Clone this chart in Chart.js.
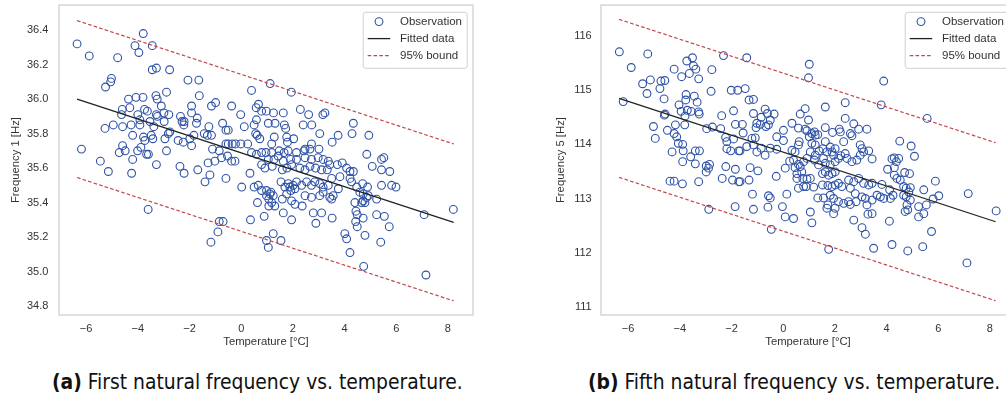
<!DOCTYPE html>
<html><head><meta charset="utf-8">
<script src="https://cdn.jsdelivr.net/npm/chart.js@4.4.1/dist/chart.umd.min.js"></script>
<style>
html,body{margin:0;padding:0;background:#fff;overflow:hidden;width:1006px;height:398px;position:relative;}
.wrap{position:absolute;top:0;width:490px;height:360px;}
.cap{position:absolute;top:377px;white-space:nowrap;font-family:"DejaVu Sans Condensed","DejaVu Sans",sans-serif;font-size:18px;line-height:18px;color:#111;}
.cap b{font-weight:bold;}
</style></head><body>
<div class="wrap" style="left:0"><canvas id="c1" width="490" height="360"></canvas></div>
<div class="wrap" style="left:542px"><canvas id="c2" width="490" height="360"></canvas></div>
<div class="cap" id="capA" style="left:52px"><b>(a)</b> First natural frequency vs. temperature.</div>
<div class="cap" id="capB" style="left:588px"><b>(b)</b> Fifth natural frequency vs. temperature.</div>
<script>
// ---------- data ----------
const temp1 = [
-6.35,-5.88,-3.79,-4.11,-3.96,-3.44,-4.78,-3.44,-3.28,-2.77,-5.02,-5.05,-5.25,-2.06,-1.64,-4.36,-4.07,-3.80,-3.30,-3.25,
-2.89,-1.62,-4.60,-4.31,-3.74,-3.63,-3.09,-1.92,-1.92,-4.63,-4.00,-3.28,-2.99,-2.80,-2.35,-2.29,-2.21,-2.22,-1.70,-1.73,
-5.27,-4.95,-4.59,-4.26,-3.92,-3.92,-3.53,-3.38,-3.24,-2.98,-4.20,-3.78,-3.73,-3.48,-3.42,-2.95,-2.82,-2.76,-2.44,-2.24,
-1.99,-1.92,-1.83,-6.18,-4.59,-4.72,-4.49,-4.01,-3.88,-3.66,-3.59,-2.89,-5.45,-4.20,-3.28,-2.37,-2.21,-1.68,-5.14,-4.24,-3.60,
-1.15,-0.99,-0.37,0.40,1.12,1.94,0.67,0.58,0.79,0.97,
1.25,1.63,2.29,2.61,3.16,3.24,-0.02,0.59,0.50,1.05,
1.31,1.67,1.72,2.40,2.73,3.04,-1.25,-1.43,-1.31,-1.15,
-0.72,-0.59,-0.50,0.12,0.56,0.62,0.72,1.28,1.76,1.79,
2.03,1.18,3.52,2.72,2.47,3.01,-0.59,-0.50,-0.35,-0.22,
-0.01,0.25,-1.11,-0.85,-1.02,-1.28,-0.76,-0.53,-0.37,-0.24,
0.40,0.59,0.79,0.96,1.18,1.47,1.66,1.82,2.14,2.43,2.66,
1.05,1.27,1.43,1.63,1.91,2.14,2.47,2.72,2.98,3.17,3.37,
0.79,0.92,1.20,1.59,1.77,1.95,2.27,2.47,2.66,2.88,3.11,3.33,3.43,
0.34,-0.59,-1.21,-1.40,0.02,
0.50,0.66,0.79,0.98,1.15,1.11,0.98,1.07,1.24,1.18,1.07,1.30,
1.54,1.69,1.82,1.88,2.01,2.08,1.92,2.14,2.34,2.53,2.72,2.85,3.04,3.17,3.37,3.50,
1.59,1.76,1.95,2.08,2.36,2.47,2.72,3.04,3.17,3.43,3.56,3.50,
0.89,1.63,1.95,2.79,3.11,2.89,3.52,0.36,-0.85,-0.70,-0.90,-1.17,1.24,0.98,1.05,1.54,0.63,
4.34,4.29,3.75,4.94,4.86,5.43,5.52,5.07,5.43,5.75,
3.72,3.91,4.08,4.21,4.34,3.82,4.21,4.27,4.70,4.89,
4.47,5.43,5.82,5.99,3.76,4.59,4.72,4.85,4.72,4.79,
4.66,4.92,5.24,4.40,4.44,4.49,4.43,4.49,4.72,5.24,
5.54,5.73,7.08,8.21,4.01,4.08,4.79,5.40,4.21,4.74,7.15
];
const freq1 = [
36.32,36.25,36.38,36.31,36.27,36.31,36.24,36.17,36.18,36.17,36.12,36.10,36.07,36.11,36.11,36.00,36.01,36.01,36.02,36.00,
36.04,36.02,35.94,35.95,35.94,35.93,35.96,35.96,35.92,35.91,35.91,35.91,35.92,35.91,35.90,35.87,35.87,35.85,35.89,35.86,
35.83,35.85,35.84,35.85,35.88,35.85,35.87,35.84,35.90,35.87,35.79,35.78,35.76,35.79,35.77,35.77,35.80,35.81,35.76,35.75,
35.77,35.73,35.79,35.71,35.73,35.69,35.70,35.70,35.72,35.68,35.68,35.70,35.64,35.65,35.62,35.61,35.57,35.59,35.58,35.57,35.36,
35.96,35.98,35.96,36.05,36.09,36.04,35.97,35.95,35.93,35.93,
35.92,35.92,35.94,35.91,35.91,35.92,35.91,35.88,35.85,35.86,
35.86,35.85,35.83,35.85,35.85,35.80,35.84,35.80,35.79,35.79,
35.86,35.82,35.82,35.84,35.80,35.79,35.77,35.78,35.78,35.75,
35.77,35.74,35.75,35.74,35.71,35.71,35.74,35.74,35.74,35.74,
35.74,35.74,35.71,35.70,35.64,35.63,35.66,35.67,35.64,35.64,
35.69,35.68,35.69,35.69,35.69,35.70,35.69,35.70,35.69,35.70,35.71,
35.65,35.65,35.67,35.64,35.65,35.65,35.66,35.65,35.66,35.65,35.64,
35.62,35.60,35.61,35.59,35.60,35.62,35.60,35.59,35.61,35.60,35.59,35.59,35.62,
35.57,35.54,35.56,35.52,35.49,
35.49,35.50,35.47,35.47,35.46,35.45,35.44,35.42,35.44,35.40,35.38,35.38,
35.52,35.49,35.51,35.49,35.50,35.48,35.47,35.52,35.50,35.52,35.50,35.52,35.51,35.49,35.50,35.54,
35.42,35.45,35.41,35.39,35.38,35.44,35.43,35.44,35.46,35.43,35.44,35.42,
35.32,35.34,35.30,35.34,35.34,35.28,35.31,35.30,35.29,35.29,35.23,35.17,35.22,35.18,35.14,35.18,35.40,
35.86,35.80,35.79,35.79,35.68,35.65,35.66,35.61,35.59,35.58,
35.62,35.63,35.60,35.58,35.58,35.55,35.54,35.52,35.51,35.49,
35.49,35.50,35.50,35.49,35.48,35.46,35.45,35.43,35.41,35.40,
35.40,35.44,35.42,35.40,35.35,35.33,35.29,35.26,35.31,35.33,
35.32,35.26,35.33,35.36,35.22,35.19,35.21,35.17,35.11,35.03,34.98
];
const temp5 = [
-6.34,-5.24,-5.88,-3.73,-3.51,-3.47,-3.38,-3.63,-4.22,-3.93,
-3.27,-2.76,-2.31,-5.44,-5.14,-4.73,-4.58,-4.77,-5.27,-4.61,
-3.76,-3.77,-3.44,-3.33,-2.79,-2.01,-1.76,-6.19,-4.03,-3.95,
-3.71,-3.56,-3.27,-1.92,-4.60,-3.80,-2.38,-5.02,-4.48,-4.17,
-3.81,-4.22,-4.12,-2.96,-2.74,-2.42,-1.85,-4.95,-4.06,-3.89,
-2.23,-2.18,-1.92,-2.18,-2.03,-1.72,-4.30,-3.87,-3.40,-3.24,
-3.58,-3.89,-3.40,-2.98,-2.85,-2.89,-2.98,-2.22,-1.85,-4.38,
-4.22,-3.90,-3.27,-2.36,-1.96,-1.72,-2.88,-1.86,-3.25,-4.57,
-1.41,-1.47,-1.32,-1.15,1.01,0.98,1.63,2.40,0.85,0.66,
0.98,-1.15,-0.70,-0.61,-0.35,-0.85,-0.50,-1.02,-0.89,-1.05,
-0.67,-0.57,-1.58,-1.55,0.34,0.59,0.85,0.92,1.11,1.24,
1.21,1.01,1.34,1.63,1.91,2.17,2.21,2.40,2.73,2.92,
3.24,2.60,2.66,2.34,-0.25,0.01,0.01,-1.21,-1.08,-1.41,
-1.67,-1.15,-0.85,-0.70,-1.02,-0.50,-0.25,0.62,0.59,0.34,
0.46,0.40,0.25,1.11,1.24,1.05,1.24,1.39,1.54,1.63,
1.69,1.82,1.89,2.01,1.95,1.56,2.14,2.23,2.01,1.82,
1.63,1.37,1.21,0.92,0.79,0.59,0.46,2.40,2.47,2.66,
2.85,2.98,3.11,3.31,2.98,3.05,3.44,-1.67,-1.32,-0.98,
-1.28,-0.27,0.08,0.66,0.53,0.72,0.53,0.76,0.92,1.05,
0.79,0.59,0.89,1.18,1.52,1.63,1.76,1.89,2.01,1.52,
1.73,1.89,2.01,2.14,2.27,2.53,2.73,2.92,3.11,3.31,
3.44,2.60,1.34,1.56,1.82,1.95,1.73,1.69,1.95,2.01,
2.14,2.34,2.53,2.60,2.79,2.82,3.05,3.18,3.24,3.44,
3.28,3.44,2.73,3.05,3.18,1.76,-1.19,-1.15,-0.57,-0.50,
-0.59,-0.03,0.14,0.08,0.40,1.05,1.11,-0.46,3.50,
3.89,3.79,5.57,4.51,4.95,5.08,4.21,4.30,4.47,4.38,
4.04,4.30,4.70,4.89,4.30,4.40,4.53,3.82,4.12,4.25,
4.15,3.89,3.76,3.63,4.66,4.76,4.92,4.86,4.66,4.76,
4.92,4.79,4.72,4.82,5.44,5.89,6.02,5.80,5.54,5.24,
5.44,5.24,7.16,8.24,4.11,5.74,4.21,4.82,5.40,7.11
];
const freq5 = [
115.71,115.67,115.42,115.54,115.60,115.45,115.39,115.31,115.39,115.25,
115.21,115.38,115.64,115.12,115.19,115.17,115.18,115.03,114.94,114.84,
114.92,114.82,114.89,114.78,114.98,115.00,115.00,114.79,114.73,114.61,
114.63,114.61,114.60,114.62,114.54,114.52,114.53,114.33,114.26,114.36,
114.36,114.20,114.14,114.29,114.32,114.29,114.37,114.11,114.02,114.00,
114.13,114.05,114.10,113.92,113.88,113.88,113.86,113.88,113.88,113.88,
113.77,113.68,113.64,113.60,113.63,113.56,113.49,113.59,113.54,113.32,
113.32,113.27,113.31,113.37,113.34,113.31,112.80,112.85,114.56,114.56,
115.60,115.03,114.82,114.83,115.48,115.23,114.69,114.77,114.66,114.56,
114.45,114.57,114.65,114.57,114.56,114.50,114.45,114.39,114.37,114.31,
114.33,114.36,114.37,114.21,114.39,114.30,114.28,114.25,114.20,114.17,
114.23,114.14,114.18,114.31,114.22,114.28,114.23,114.48,114.38,114.28,
114.28,114.20,114.16,114.05,114.14,114.26,114.07,114.11,114.12,113.96,
113.88,113.99,113.93,113.80,113.86,113.93,113.91,114.05,113.99,113.89,
113.86,113.71,113.69,114.02,113.99,113.86,113.80,113.88,113.92,114.05,
113.86,113.95,113.86,113.92,113.80,113.74,113.74,113.79,113.68,113.62,
113.65,113.62,113.71,113.74,113.68,113.63,113.57,113.83,113.74,113.68,
113.71,113.80,113.86,113.88,113.99,113.92,113.73,113.31,113.34,113.51,
113.57,113.41,113.56,113.59,113.46,113.49,113.37,113.37,113.36,113.37,
113.22,113.19,113.22,113.21,113.46,113.49,113.43,113.46,113.49,113.25,
113.24,113.22,113.25,113.28,113.22,113.34,113.31,113.37,113.28,113.25,
113.28,113.19,113.01,113.01,113.06,113.00,112.88,112.82,112.72,112.82,
112.94,112.91,112.94,112.89,113.09,112.94,113.03,113.00,112.88,112.97,
112.71,112.72,112.60,112.46,112.34,112.06,113.08,112.80,113.05,113.01,
112.84,112.85,113.08,112.66,112.63,112.75,112.55,112.43,112.08,
115.17,114.73,114.48,114.06,113.97,113.78,113.73,113.75,113.74,113.68,
113.54,113.57,113.48,113.46,113.43,113.37,113.34,113.26,113.16,113.06,
113.00,113.00,113.03,113.06,113.22,113.19,113.20,113.12,113.06,113.03,
112.97,112.88,112.76,112.79,113.16,113.32,113.05,112.99,112.88,112.85,
112.72,112.66,113.09,112.77,112.58,112.39,112.15,112.03,112.11,111.81
];
const fitTemp = [-6.35, 8.22];
const fit1 = [36.0, 35.285];
const upper1 = [36.455, 35.74];
const lower1 = [35.545, 34.83];
const fit5 = [114.85, 112.57];
const upper5 = [116.31, 114.03];
const lower5 = [113.39, 111.11];
const xTicks = [-6, -4, -2, 0, 2, 4, 6, 8];
const yTicks1 = [34.8, 35.0, 35.2, 35.4, 35.6, 35.8, 36.0, 36.2, 36.4];
const yTicks5 = [111, 112, 113, 114, 115, 116];
const legendLabels = ['Observation', 'Fitted data', '95% bound'];

// ---------- styling ----------
const FONT = '"Liberation Sans", Arial, sans-serif';
const OBS = 'rgb(46,82,166)';
const FITC = '#222222';
const BNDC = '#c2474b';
const TXT = '#333333';

const pts = (xs, ys) => xs.map((x, i) => ({x: x, y: ys[i]}));
const fmtX = v => v < 0 ? '\u2212' + Math.abs(v) : String(v);

const frame = {
  id: 'frame',
  beforeDatasetsDraw(chart) {
    const a = chart.chartArea, ctx = chart.ctx;
    ctx.save();
    ctx.strokeStyle = '#dddddd';
    ctx.lineWidth = 1.8;
    ctx.strokeRect(a.left, a.top, a.right - a.left, a.bottom - a.top);
    ctx.restore();
  },
  afterDatasetsDraw(chart) {
    const a = chart.chartArea, ctx = chart.ctx;
    const bw = 104, bh = 56;
    const bx = a.right - 6.3 - bw, by = a.top + 6.7;
    ctx.save();
    ctx.fillStyle = 'rgba(255,255,255,0.85)';
    ctx.strokeStyle = '#d0d0d0';
    ctx.lineWidth = 1;
    ctx.beginPath();
    ctx.roundRect(bx + 0.5, by + 0.5, bw, bh, 2.5);
    ctx.fill(); ctx.stroke();
    const rows = [by + 9.8, by + 26.8, by + 43.8];
    ctx.beginPath();
    ctx.arc(bx + 16.3, rows[0], 3.9, 0, Math.PI * 2);
    ctx.strokeStyle = OBS; ctx.lineWidth = 1.1; ctx.stroke();
    ctx.beginPath();
    ctx.moveTo(bx + 5, rows[1]); ctx.lineTo(bx + 27.5, rows[1]);
    ctx.strokeStyle = FITC; ctx.lineWidth = 1.3; ctx.stroke();
    ctx.beginPath();
    ctx.setLineDash([3.6, 2.2]);
    ctx.moveTo(bx + 5, rows[2]); ctx.lineTo(bx + 27.5, rows[2]);
    ctx.strokeStyle = BNDC; ctx.lineWidth = 1.2; ctx.stroke();
    ctx.setLineDash([]);
    ctx.fillStyle = TXT;
    ctx.font = '11.5px ' + FONT;
    ctx.textBaseline = 'middle';
    ctx.textAlign = 'left';
    legendLabels.forEach((t, i) => ctx.fillText(t, bx + 37.3, rows[i] + 0.5));
    ctx.restore();
  }
};

function makeChart(id, temps, freqs, fit, up, lo, yMin, yMax, yTicks, dec, yTitle, yPad, yTitlePad) {
  const lineDs = (ys, color, dash, order) => ({
    data: pts(fitTemp, ys), showLine: true, pointRadius: 0, borderColor: color,
    borderWidth: dash ? 1.2 : 1.3, borderDash: dash || [], fill: false, order: order
  });
  return new Chart(document.getElementById(id), {
    type: 'scatter',
    data: {
      datasets: [
        {label: legendLabels[0], data: pts(temps, freqs), pointStyle: 'circle', pointRadius: 3.9,
         pointBorderWidth: 1.1, borderColor: OBS, backgroundColor: 'rgba(0,0,0,0)', order: 3},
        Object.assign(lineDs(fit, FITC, null, 1), {label: legendLabels[1]}),
        Object.assign(lineDs(up, BNDC, [3.6, 2.2], 2), {label: legendLabels[2]}),
        Object.assign(lineDs(lo, BNDC, [3.6, 2.2], 2), {label: legendLabels[2] + ' '})
      ]
    },
    options: {
      responsive: false, animation: false, devicePixelRatio: 1,
      layout: {padding: {top: 5, right: 17, left: 0, bottom: 0}},
      plugins: {legend: {display: false}, tooltip: {enabled: false}},
      scales: {
        x: {
          type: 'linear', min: -7.05, max: 8.97,
          grid: {display: false, drawTicks: false}, border: {display: false},
          ticks: {padding: 7, color: TXT, font: {family: FONT, size: 11}, callback: fmtX, autoSkip: false, maxRotation: 0},
          afterBuildTicks: s => { s.ticks = xTicks.map(v => ({value: v})); },
          title: {display: true, text: 'Temperature [°C]', color: TXT, font: {family: FONT, size: 11.3}, padding: {top: 0, bottom: 11.2}},
          afterFit: s => { s.height = 45; s.paddingLeft = 0; s.paddingRight = 0; }
        },
        y: {
          type: 'linear', min: yMin, max: yMax,
          grid: {display: false, drawTicks: false}, border: {display: false},
          ticks: {padding: yPad, color: TXT, font: {family: FONT, size: 11}, callback: v => v.toFixed(dec), autoSkip: false},
          afterBuildTicks: s => { s.ticks = yTicks.map(v => ({value: v})); },
          title: {display: true, text: yTitle, color: TXT, font: {family: FONT, size: 11.3}, padding: {top: yTitlePad, bottom: 0}},
          afterFit: s => { s.width = 59; s.paddingTop = 0; s.paddingBottom = 0; }
        }
      }
    },
    plugins: [frame]
  });
}

makeChart('c1', temp1, freq1, fit1, upper1, lower1, 34.748, 36.545, yTicks1, 1, 'Frequency 1 [Hz]', 10.7, 9.2);
makeChart('c2', temp5, freq5, fit5, upper5, lower5, 110.847, 116.573, yTicks5, 0, 'Frequency 5 [Hz]', 9.3, 12.2);

// caption sizing
(function () {
  const a = document.getElementById('capA'), b = document.getElementById('capB');
  const w = a.getBoundingClientRect().width;
  const fs = 18 * 411 / w;
  [a, b].forEach(el => {
    el.style.fontSize = fs + 'px';
    el.style.lineHeight = fs + 'px';
    el.style.top = (390 - 0.846 * fs) + 'px';
  });
})();
</script>
</body></html>
